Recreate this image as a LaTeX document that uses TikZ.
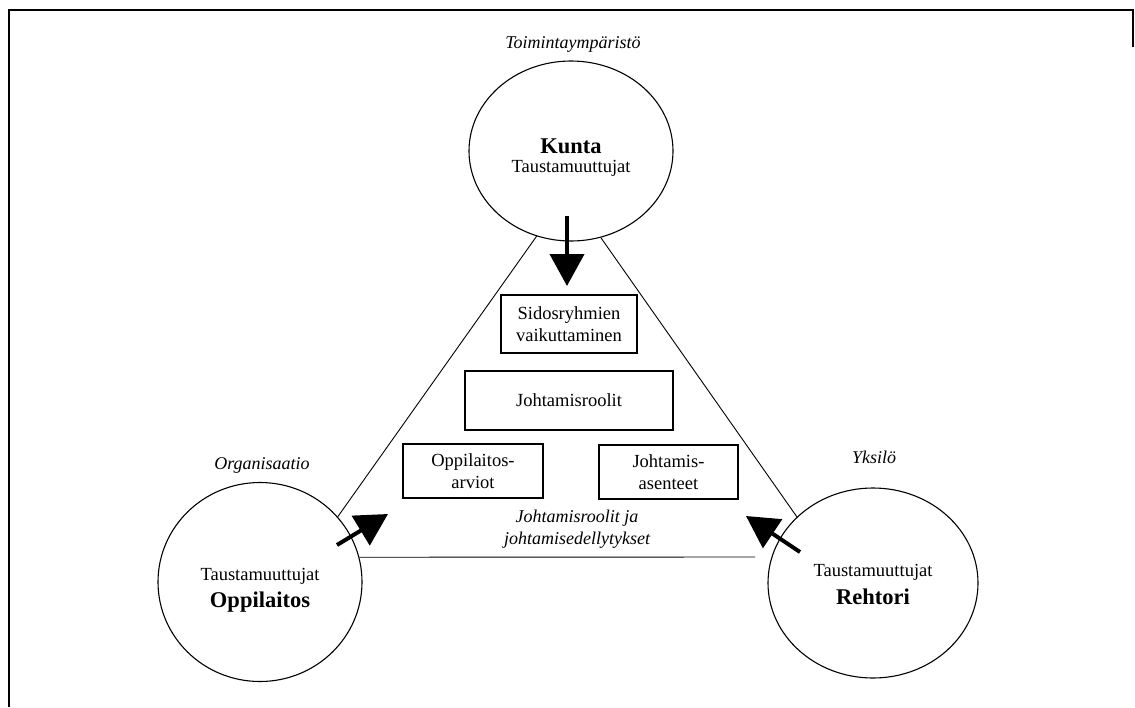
\documentclass[tikz,border=0pt]{standalone}
\usepackage{fontspec}
\setmainfont{Liberation Serif}
\usetikzlibrary{shapes.geometric,arrows.meta}
\begin{document}
\begin{tikzpicture}[x=1pt,y=-1pt,
  zone/.style={ellipse,draw,line width=1.1pt,inner sep=0pt},
  factor/.style={draw,line width=1.1pt,align=center,inner sep=0pt,
    font=\fontsize{18.5}{21.5}\selectfont},
  tag/.style={font=\fontsize{18}{22}\selectfont\itshape,align=center},
  title/.style={font=\fontsize{22.5}{25}\selectfont\bfseries},
  sub/.style={font=\fontsize{18.5}{22}\selectfont},
  link/.style={line width=0.9pt},
  push/.style={line width=4pt,-{Triangle[length=32pt,width=34pt]}}]
\useasboundingbox (0,0) rectangle (1135,707);

% frame
\draw[line width=2.5pt] (1133,47) -- (1133,10) -- (9,10) -- (9,707);

% the three spheres
\node[zone,minimum width=204pt,minimum height=180pt] (kunta) at (571,151) {};
\node[zone,minimum width=204pt,minimum height=199pt] (oppi) at (260,582) {};
\node[zone,minimum width=210pt,minimum height=190pt] (rehtori) at (873,583) {};

\node[tag] (lblkunta) at (573,44) {Toimintaympäristö};
\node[tag] (lbloppi) at (262,465) {Organisaatio};
\node[tag] (lblrehtori) at (874,457) {Yksilö};

\node[title] (kname) at (571,146) {Kunta};
\node[sub] (kvar) at (571,168) {Taustamuuttujat};
\node[sub] (ovar) at (260,576) {Taustamuuttujat};
\node[title] (oname) at (260,602) {Oppilaitos};
\node[sub] (rvar) at (873,572) {Taustamuuttujat};
\node[title] (rname) at (873,597) {Rehtori};

% triangle joining the spheres
\coordinate (baseend) at (755,557);
\draw[link] (kunta.248) -- (oppi.40);
\draw[link] (kunta.289) -- (rehtori.139);
\draw[link] (oppi.14) -- (baseend);

% factors in the middle
\node[factor,minimum width=136pt,minimum height=58pt] (sidos) at (569,324)
  {Sidosryhmien\\vaikuttaminen};
\node[factor,minimum width=208pt,minimum height=59pt] (roolit) at (569,400.5)
  {Johtamisroolit};
\node[factor,minimum width=140pt,minimum height=54pt] (arviot) at (473,471)
  {Oppilaitos-\\arviot};
\node[factor,minimum width=139pt,minimum height=54pt] (asenteet) at (668.5,472)
  {Johtamis-\\asenteet};
\node[tag] (edell) at (577,529) {Johtamisroolit ja\\johtamisedellytykset};

% influence arrows
\coordinate (ktail) at (567,216);
\coordinate (khead) at (567,286);
\coordinate (otail) at (337,545);
\coordinate (ohead) at (388,514);
\coordinate (rtail) at (800,552);
\coordinate (rhead) at (746,516);
\draw[push] (ktail) -- (khead);
\draw[push] (otail) -- (ohead);
\draw[push] (rtail) -- (rhead);
\end{tikzpicture}
\end{document}
